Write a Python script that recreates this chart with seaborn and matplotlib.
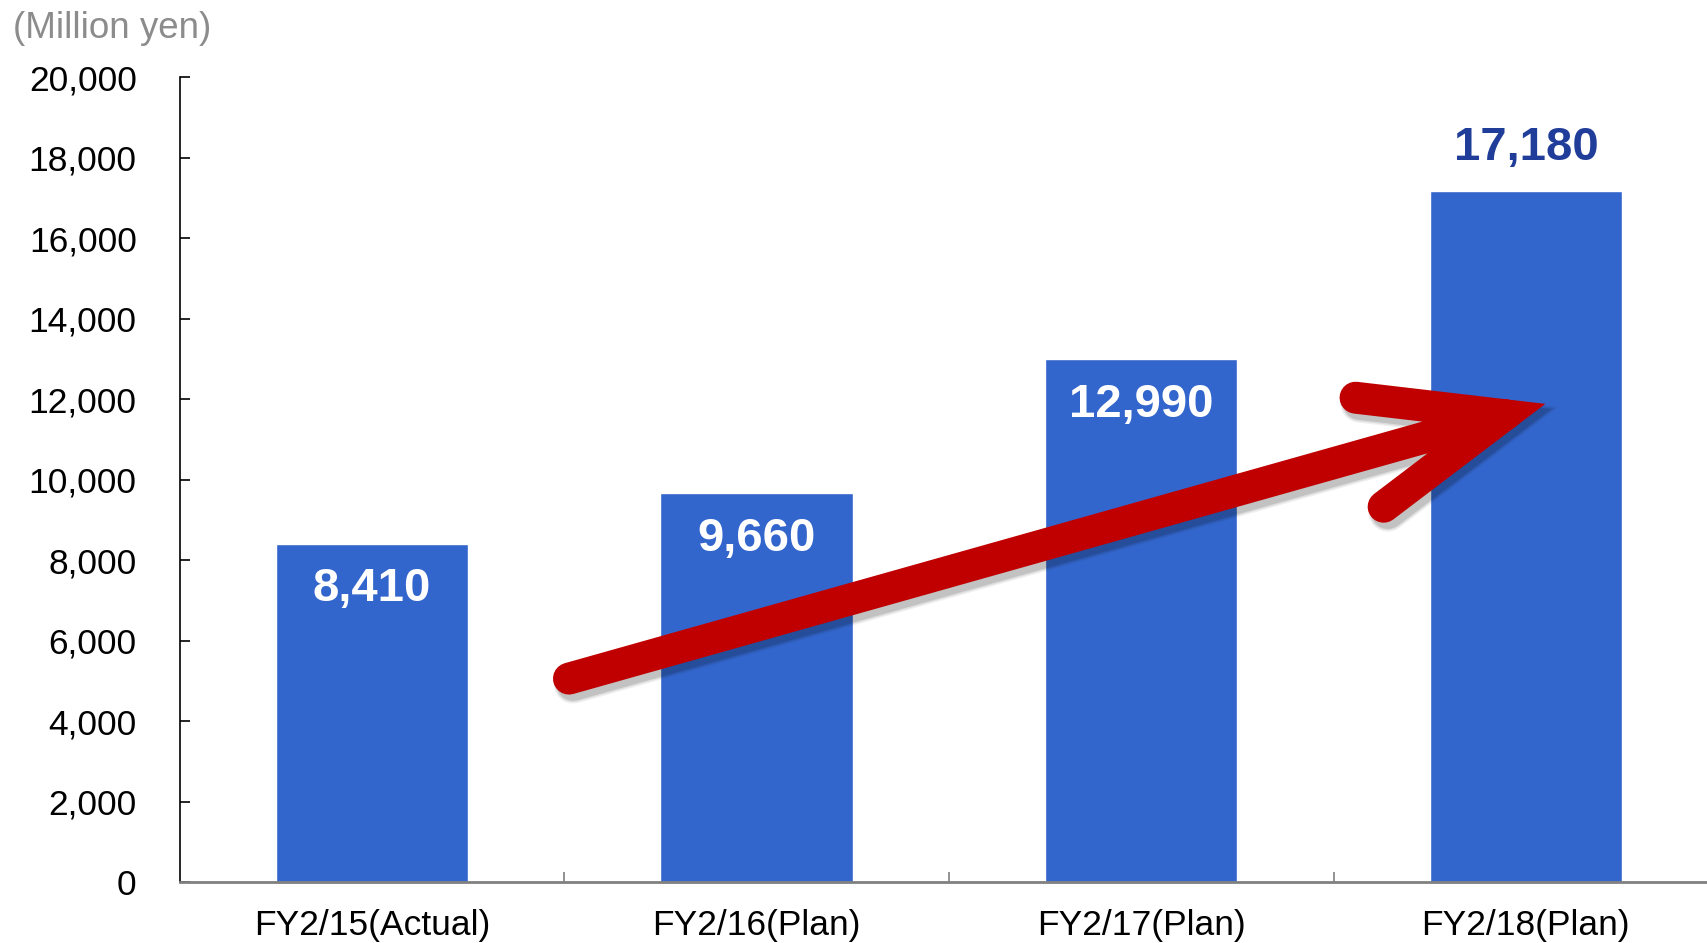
import matplotlib
matplotlib.use("Agg")
import matplotlib.pyplot as plt
import matplotlib.patheffects as pe
import numpy as np
import pandas as pd
import seaborn as sns
from matplotlib.path import Path
from matplotlib.patches import PathPatch
from matplotlib.ticker import FuncFormatter

# Net sales by fiscal year
categories = ["FY2/15(Actual)", "FY2/16(Plan)", "FY2/17(Plan)", "FY2/18(Plan)"]
sales = [8410, 9660, 12990, 17180]
unit_label = "(Million yen)"
y_ticks = [0, 2000, 4000, 6000, 8000, 10000, 12000, 14000, 16000, 18000, 20000]

# Growth arrow geometry (category units, million yen)
arrow_tail = (0.512, 5060)
arrow_tip = (3.09, 11990)
barb_upper = (2.557, 12040)
barb_lower = (2.630, 9330)
arrow_lw = 23

BAR_BLUE = "#3366CC"
LABEL_BLUE = "#1F3D99"
ARROW_RED = "#C00000"

sns.set_theme(style="white")
plt.rcParams["font.family"] = ["Liberation Sans", "DejaVu Sans"]

fig = plt.figure(figsize=(17.08, 9.43), dpi=100)
ax = fig.add_axes([0.1052, 0.0644, 0.9008, 0.8536])

df = pd.DataFrame({"period": categories, "sales": sales})
sns.barplot(data=df, x="period", y="sales", color=BAR_BLUE, saturation=1,
            width=0.5, ax=ax, zorder=2)

ax.set_xlim(-0.5, len(categories) - 0.5)
ax.set_ylim(y_ticks[0], y_ticks[-1])
ax.set_yticks(y_ticks)
ax.yaxis.set_major_formatter(FuncFormatter(lambda v, p: f"{int(v):,}"))
ax.set_xlabel("")
ax.set_ylabel("")

for side in ("top", "right"):
    ax.spines[side].set_visible(False)
ax.spines["left"].set_color("black")
ax.spines["left"].set_linewidth(1.2)
ax.spines["bottom"].set_color("#808080")
ax.spines["bottom"].set_linewidth(2)

ax.tick_params(axis="y", left=True, direction="in", length=7, width=1.2,
               color="black", pad=31, labelsize=25.5, labelcolor="black")
ax.tick_params(axis="x", which="major", length=0, pad=19.5, labelsize=25.5,
               labelcolor="black")
ax.set_xticks(np.arange(len(categories) - 1) + 0.5, minor=True)
ax.tick_params(axis="x", which="minor", bottom=True, direction="in",
               length=7, width=1.2, color="#808080")

# Value labels: inside the bars, the last one above in dark blue
for i, v in enumerate(sales):
    text = f"{v:,}"
    if i < len(sales) - 1:
        ax.annotate(text, (i, v), xytext=(0, -32.5), textcoords="offset points",
                    ha="center", va="center", color="white", fontsize=34,
                    fontweight="bold", zorder=4)
    else:
        ax.annotate(text, (i, v), xytext=(0, 30.5), textcoords="offset points",
                    ha="center", va="center", color=LABEL_BLUE, fontsize=34,
                    fontweight="bold", zorder=4)

fig.text(13 / 1708, 1 - 28 / 943, unit_label, color="#8C8C8C", fontsize=26.5,
         ha="left", va="center")

# Growth arrow: thick shaft plus a mitred chevron head
T = ax.transData
tip_d = T.transform(arrow_tip)
b1_d = T.transform(barb_upper)
b2_d = T.transform(barb_lower)
u1 = (b1_d - tip_d) / np.linalg.norm(b1_d - tip_d)
u2 = (b2_d - tip_d) / np.linalg.norm(b2_d - tip_d)
bis = (u1 + u2) / np.linalg.norm(u1 + u2)
half = np.arccos(np.clip(np.dot(u1, u2), -1, 1)) / 2
w_px = arrow_lw * fig.dpi / 72
vertex = T.inverted().transform(tip_d + bis * (w_px / 2) / np.sin(half))

verts = [arrow_tail, vertex, barb_upper, vertex, barb_lower]
codes = [Path.MOVETO, Path.LINETO, Path.MOVETO, Path.LINETO, Path.LINETO]
arrow = PathPatch(Path(verts, codes), fill=False, edgecolor=ARROW_RED,
                  linewidth=arrow_lw, capstyle="round", joinstyle="miter",
                  zorder=5)
# soft drop shadow built from a few widening translucent strokes
shadow = [
    pe.Stroke(offset=(3, -4), linewidth=arrow_lw + w, foreground="black",
              alpha=a)
    for w, a in ((5, 0.06), (3, 0.08), (1, 0.12))
]
arrow.set_path_effects(shadow + [pe.Normal()])
ax.add_patch(arrow)

fig.savefig("out.png", dpi=100, facecolor="white")
